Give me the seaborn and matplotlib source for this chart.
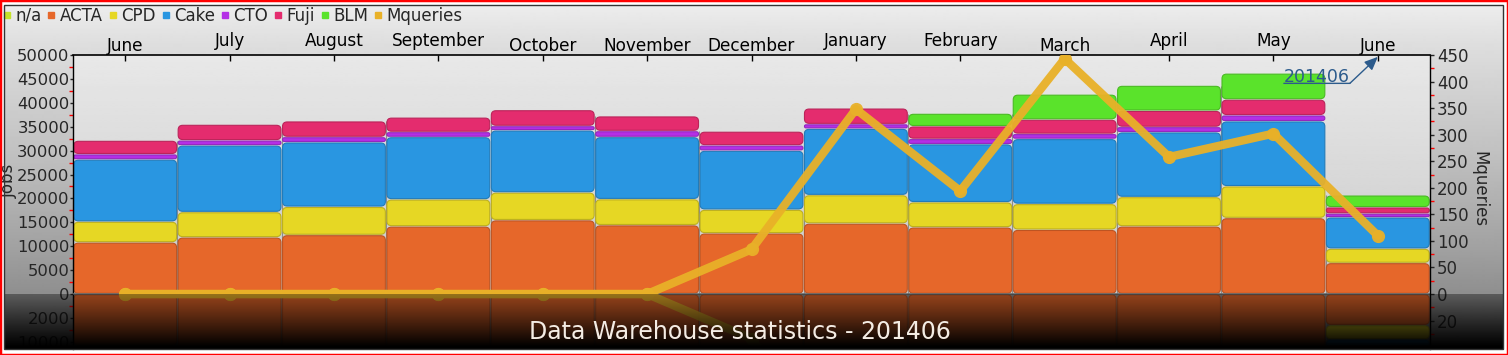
import numpy as np
import pandas as pd
import matplotlib
matplotlib.use("Agg")
import matplotlib.pyplot as plt
import seaborn as sns
from matplotlib.patches import FancyBboxPatch, Rectangle
from matplotlib.lines import Line2D
from matplotlib.transforms import ScaledTranslation

# ---------------- data ----------------
months = ["June", "July", "August", "September", "October", "November", "December",
          "January", "February", "March", "April", "May", "June"]
na_jobs = [0, 0, 0, 0, 0, 0, 0, 0, 0, 0, 0, 0, 0]
acta = [10800, 11850, 12350, 14150, 15450, 14400, 12700, 14750, 13950, 13450, 14150, 15900, 6500]
cpd = [4350, 5300, 5900, 5650, 5800, 5450, 4950, 5950, 5250, 5400, 6150, 6650, 3000]
cake = [13000, 13950, 13500, 13050, 13000, 13000, 12350, 13900, 12150, 13600, 13550, 13600, 6550]
cto = [1100, 1050, 1100, 1050, 900, 1250, 1100, 950, 1100, 1050, 1100, 1250, 800]
fuji = [2850, 3300, 3300, 3050, 3350, 3100, 2900, 3300, 2650, 3000, 3400, 3300, 1300]
blm = [0, 0, 0, 0, 0, 0, 0, 0, 2650, 5250, 5250, 5450, 2500]
mqueries = [0, 0, 0, 0, 0, 0, 84, 348, 194, 443, 258, 302, 110]

left_ticks = [-10000, -5000, 0, 5000, 10000, 15000, 20000, 25000, 30000, 35000, 40000, 45000, 50000]
left_labels = ["10000", "2000", "0", "5000", "10000", "15000", "20000", "25000", "30000",
               "35000", "40000", "45000", "50000"]
right_ticks = [-50, 0, 50, 100, 150, 200, 250, 300, 350, 400, 450]
right_labels = ["20", "0", "50", "100", "150", "200", "250", "300", "350", "400", "450"]

series = {"n/a": na_jobs, "ACTA": acta, "CPD": cpd, "Cake": cake, "CTO": cto, "Fuji": fuji, "BLM": blm}
colors = {"n/a": "#c5e22a", "ACTA": "#e6672a", "CPD": "#e6d724", "Cake": "#2996e1",
          "CTO": "#b42fe6", "Fuji": "#e42c6e", "BLM": "#5ae32b"}
mq_color = "#e9b128"
ann_color = "#2c5b8c"

rows = []
for name, vals in series.items():
    for i, v in enumerate(vals):
        rows.append({"idx": i, "series": name, "value": v})
df = pd.DataFrame(rows)
totals = df.groupby("idx")["value"].sum().to_numpy()

# ---------------- layout ----------------
W, H = 1508, 355
sns.set_style("white")
plt.rcParams["font.family"] = ["DejaVu Sans"]
fig = plt.figure(figsize=(W / 100, H / 100), dpi=100, facecolor="white")

ax_l, ax_r, ax_t, ax_b = 73, 1430, 55, 349
in_l, in_t, in_r, in_b = 4, 5, 1503, 349
ylo, yhi = -11500, 50000
zero_px = ax_b - (0 - ylo) / (yhi - ylo) * (ax_b - ax_t)


def frect(l, t, r, b):
    return [l / W, 1 - b / H, (r - l) / W, (b - t) / H]


# figure background gradient
bg = fig.add_axes(frect(in_l, in_t, in_r, in_b), zorder=-5)
bg.axis("off")
yy = np.arange(in_t, in_b) + 0.5
g = np.interp(yy, [5, 45, 150, 250, 294, 349], [0.93, 0.87, 0.76, 0.63, 0.56, 0.45])
bg.imshow(np.repeat(g[:, None], 2, axis=1), cmap="gray", vmin=0, vmax=1, aspect="auto",
          extent=[0, 1, 0, 1], interpolation="bilinear")
bg.set_xlim(0, 1); bg.set_ylim(0, 1)

# plot-area background gradient
pbg = fig.add_axes(frect(ax_l, ax_t, ax_r, zero_px), zorder=-4)
pbg.axis("off")
gp = np.linspace(0.91, 0.79, 100)
pbg.imshow(np.repeat(gp[:, None], 2, axis=1), cmap="gray", vmin=0, vmax=1, aspect="auto",
           extent=[0, 1, 0, 1], interpolation="bilinear")
pbg.set_xlim(0, 1); pbg.set_ylim(0, 1)

ax = fig.add_axes(frect(ax_l, ax_t, ax_r, ax_b))
ax.patch.set_visible(False)

# ---------------- stacked bars ----------------
stack_order = ["ACTA", "CPD", "Cake", "CTO", "Fuji", "BLM", "n/a"]
sns.histplot(data=df, x="idx", weights="value", hue="series", hue_order=stack_order[::-1],
             multiple="stack", discrete=True, shrink=0.985, palette=colors, alpha=1,
             linewidth=0, legend=False, ax=ax)

ax.set_xlim(-0.5, 12.5)
ax.set_ylim(ylo, yhi)
ux = 13 / (ax_r - ax_l)
uy = (yhi - ylo) / (ax_b - ax_t)

segs = []
for p in list(ax.patches):
    x, y, w, h = p.get_x(), p.get_y(), p.get_width(), p.get_height()
    fc = p.get_facecolor()
    p.remove()
    if h > 0:
        segs.append((x, y, w, h, fc))


def add_seg(x, y, w, h, fc):
    gap = 0.75 * uy
    y0 = y + gap
    hh = h - 2 * gap
    if hh <= 0:
        return
    hp = hh / uy
    r_px = min(4.5, hp / 2 * 0.95)
    ec = tuple(np.array(fc[:3]) * 0.82)
    patch = FancyBboxPatch((x, y0), w, hh,
                           boxstyle=f"round,pad=0,rounding_size={r_px * ux}",
                           mutation_aspect=uy / ux, facecolor=fc[:3], edgecolor=ec,
                           lw=0.8, zorder=2)
    ax.add_patch(patch)


for (x, y, w, h, fc) in segs:
    add_seg(x, y, w, h, fc)
    add_seg(x, -(y + h), w, h, fc)  # reflection

# separators between the columns (only where bars are)
bounds = np.arange(0.5, 12, 1)
sep_top = np.minimum(totals[:-1], totals[1:])
ax.vlines(bounds, ylo, sep_top, color="#8c8c8c", lw=0.8, zorder=1)

ax.set_xlim(-0.5, 12.5)
ax.set_ylim(ylo, yhi)
ax.axhline(0, color="#6a6a6a", lw=1.2, zorder=4)

# axes styling
ax.xaxis.tick_top()
ax.set_xticks(range(len(months)))
ax.set_xticklabels(months, fontsize=12.2)
ax.tick_params(axis="x", which="major", direction="in", length=4, width=1, pad=6.3,
               top=True, bottom=False, labeltop=True, labelbottom=False, colors="black")
ax.tick_params(axis="x", which="minor", length=0, top=False, bottom=False)
for tick, name in zip(ax.xaxis.get_major_ticks(), months):
    lab = tick.label2
    lab.set_va("baseline")
    if not any(c in name for c in "gjpqy"):
        lab.set_transform(lab.get_transform() + ScaledTranslation(0, -5 / 100, fig.dpi_scale_trans))
ax.set_xlabel("")

ax.set_yticks(left_ticks)
ax.set_yticklabels(left_labels, fontsize=11.8)
ax.set_yticks(np.arange(-7500, 50000, 5000), minor=True)
ax.tick_params(axis="y", which="major", direction="out", length=2, width=1, pad=0.5, left=True)
ax.tick_params(axis="y", which="minor", direction="out", length=3, width=1, color="red", left=True)
ax.set_ylabel("Jobs", fontsize=12)
ax.yaxis.set_label_coords(-0.0408, 0.573)

for s in ["bottom", "right"]:
    ax.spines[s].set_visible(False)
ax.spines["top"].set_color("black"); ax.spines["top"].set_linewidth(1.2)
ax.spines["left"].set_color("black"); ax.spines["left"].set_linewidth(1)

# ---------------- Mqueries line ----------------
ax2 = ax.twinx()
idx = np.arange(len(months))
mq = np.array(mqueries)
sns.lineplot(x=idx, y=mq, ax=ax2, color=mq_color, lw=6, marker="o", markersize=9.5,
             markeredgewidth=0, alpha=0.95)
sns.lineplot(x=idx, y=-mq, ax=ax2, color=mq_color, lw=6, marker="o", markersize=9.5,
             markeredgewidth=0, alpha=0.95)
ax2.set_ylim(ylo * 450 / yhi, 450)
ax2.set_xlim(-0.5, 12.5)
ax2.set_yticks(right_ticks)
ax2.set_yticklabels(right_labels, fontsize=12)
ax2.set_yticks(np.arange(-75, 450, 50), minor=True)
ax2.tick_params(axis="y", which="major", direction="out", length=3, width=1, pad=2, right=True)
ax2.tick_params(axis="y", which="minor", direction="out", length=3, width=1, color="red", right=True)
ax2.set_ylabel("Mqueries", fontsize=12, rotation=270, va="bottom", ha="center", rotation_mode="anchor")
ax2.yaxis.set_label_coords(1.030, 0.5425)
for s in ["top", "left", "bottom"]:
    ax2.spines[s].set_visible(False)
ax2.spines["right"].set_color("black"); ax2.spines["right"].set_linewidth(1)

# ---------------- annotation ----------------
lbl = ax.text(11.1, 45500, "201406", color=ann_color, fontsize=12.5, ha="left", va="center", zorder=6)
ax.annotate("", xy=(12, 49600), xycoords="data", xytext=(1, 0.12), textcoords=lbl,
            arrowprops=dict(arrowstyle="-|>,head_length=0.8,head_width=0.35", color=ann_color,
                            lw=1, shrinkA=0, shrinkB=0), zorder=6)
ax.annotate("", xy=(0, 0.12), xycoords=lbl, xytext=(1, 0.12), textcoords=lbl,
            arrowprops=dict(arrowstyle="-", color=ann_color, lw=1, shrinkA=0, shrinkB=0), zorder=6)

# ---------------- legend ----------------
handles = [Line2D([], [], marker="s", ls="", color=colors[n], markersize=5) for n in series]
handles.append(Line2D([], [], marker="s", ls="", color=mq_color, markersize=5))
labels = list(series.keys()) + ["Mqueries"]
fig.legend(handles, labels, loc="upper left", bbox_to_anchor=(3 / W, 1 - 7 / H), ncol=8,
           frameon=False, fontsize=12, handlelength=0.45, handletextpad=0.3,
           columnspacing=0.35, borderaxespad=0, borderpad=0)

# ---------------- reflection darkening overlay ----------------
ov = fig.add_axes(frect(in_l, in_t, in_r, in_b), zorder=10)
ov.axis("off")
t = np.clip((yy - zero_px) / 52.0, 0, 1)
alpha = np.where(yy < zero_px, 0.0, 0.36 + 0.64 * t ** 1.1)
rgba = np.zeros((len(yy), 2, 4))
rgba[:, :, 3] = alpha[:, None]
ov.imshow(rgba, aspect="auto", extent=[0, 1, 0, 1], interpolation="nearest")
ov.set_xlim(0, 1); ov.set_ylim(0, 1)

fig.text(740 / W, 1 - 332 / H, "Data Warehouse statistics - 201406", color="#f4ece4",
         fontsize=17, ha="center", va="center", zorder=20)

# borders
fig.patches.append(Rectangle((in_l / W, 1 - in_b / H), (in_r - in_l) / W, (in_b - in_t) / H,
                             transform=fig.transFigure, fill=False, edgecolor="#333333",
                             lw=1, zorder=25))
fig.patches.append(Rectangle((0, 0), 1, 1, transform=fig.transFigure, fill=False,
                             edgecolor="red", lw=2.5, zorder=30))

fig.savefig("out.png", dpi=100)
